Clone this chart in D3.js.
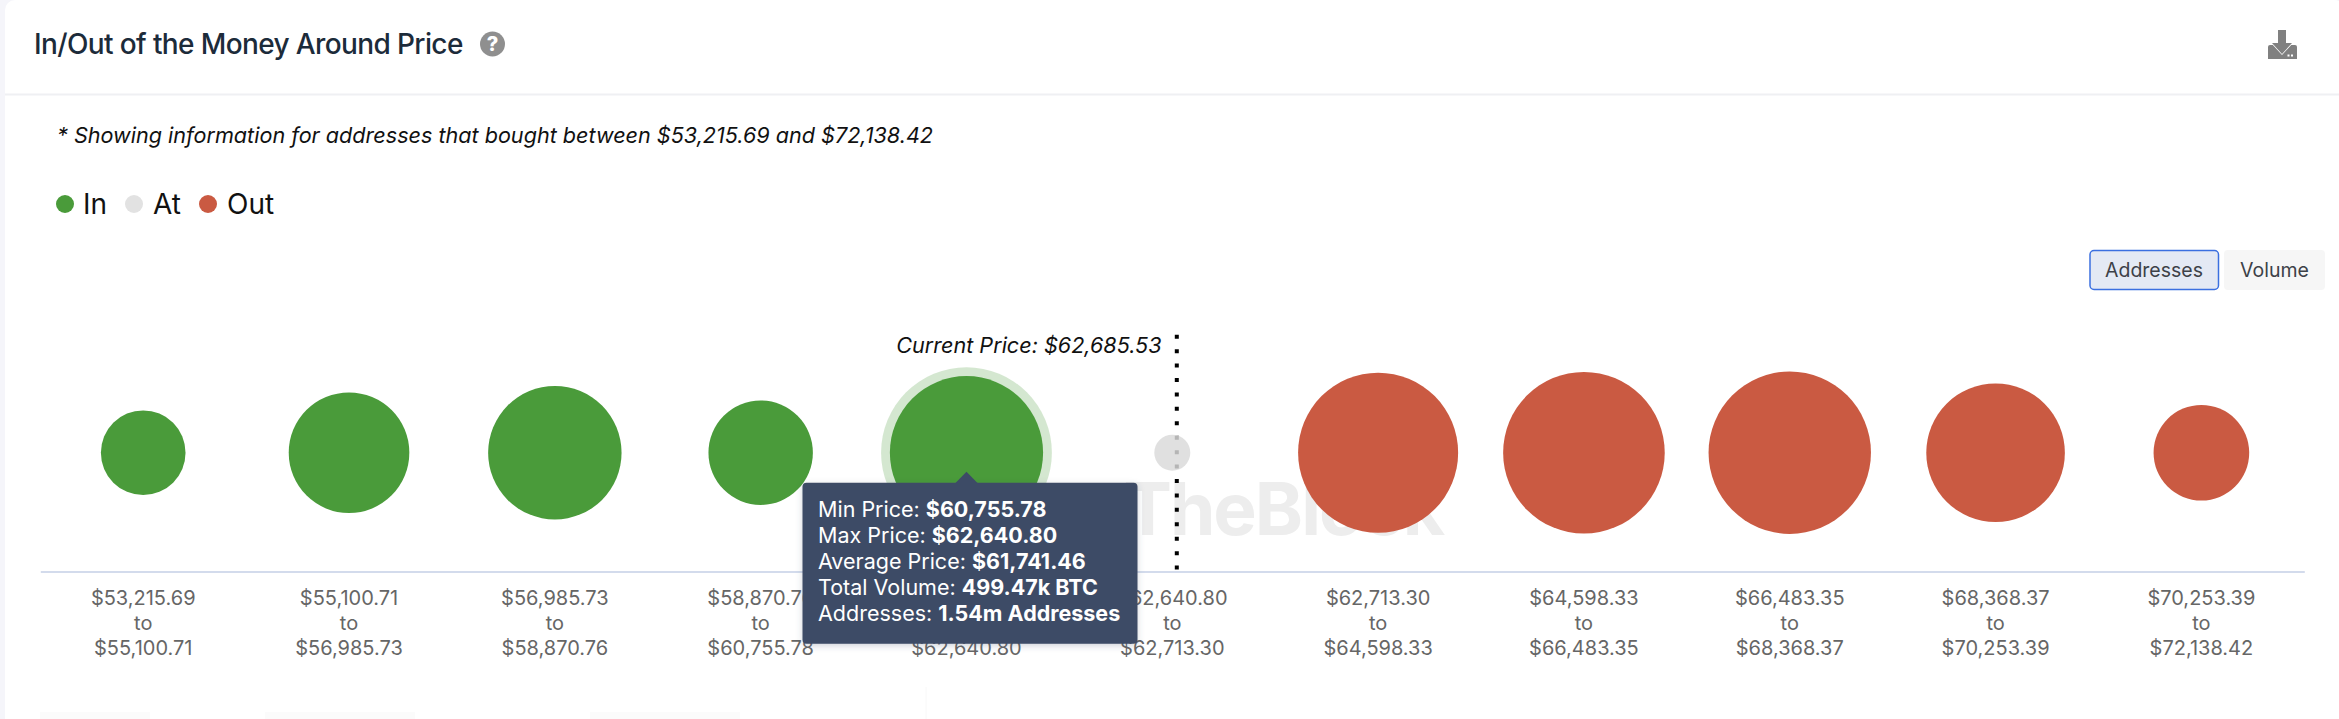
<!DOCTYPE html>
<html>
<head>
<meta charset="utf-8">
<script src="https://cdn.jsdelivr.net/npm/d3@7"></script>
<style>
  html, body { margin: 0; padding: 0; background: #fff; overflow: hidden; }
  svg { display: block; font-family: Inter, "Noto Sans", sans-serif; }
</style>
</head>
<body>
<div id="chart"></div>
<script>
// range of each bubble
const binFrom = ["$53,215.69", "$55,100.71", "$56,985.73", "$58,870.76", "$60,755.78", "$62,640.80", "$62,713.30", "$64,598.33", "$66,483.35", "$68,368.37", "$70,253.39"];
const binTo = ["$55,100.71", "$56,985.73", "$58,870.76", "$60,755.78", "$62,640.80", "$62,713.30", "$64,598.33", "$66,483.35", "$68,368.37", "$70,253.39", "$72,138.42"];
// addresses in millions
const addresses = [0.47, 0.954, 1.168, 0.715, 1.54, 0.085, 1.68, 1.713, 1.73, 1.26, 0.60];
const status = ["in", "in", "in", "in", "in", "at", "out", "out", "out", "out", "out"];
const legendNames = ["In", "At", "Out"];
const legendKeys = ["in", "at", "out"];
const tooltipLabels = ["Min Price: ", "Max Price: ", "Average Price: ", "Total Volume: ", "Addresses: "];
const tooltipValues = ["$60,755.78", "$62,640.80", "$61,741.46", "499.47k BTC", "1.54m Addresses"];
const selectedBin = 4;
const atBin = 5;

const width = 2339;
const height = 719;
const colors = { in: "#4a9b3a", at: "#dadada", out: "#ca5a42" };
const legendColors = { in: "#4a9b3a", at: "#e2e2e2", out: "#ca5a42" };

const svg = d3.select("#chart").append("svg").attr("width", width).attr("height", height);

// card
svg.append("rect").attr("width", width).attr("height", height).attr("fill", "#f5f5fa");
svg.append("rect").attr("x", 5).attr("y", 0).attr("width", width).attr("height", height + 20).attr("rx", 10).attr("fill", "#fff");
svg.append("line").attr("x1", 5).attr("x2", width).attr("y1", 94.5).attr("y2", 94.5).attr("stroke", "#eff0f3").attr("stroke-width", 2);

// header
svg.append("text").attr("x", 34).attr("y", 54).attr("font-size", 28).attr("font-weight", 500).attr("letter-spacing", "-0.62px").attr("fill", "#1c2b3a").text("In/Out of the Money Around Price");
svg.append("circle").attr("cx", 492.5).attr("cy", 44).attr("r", 12.5).attr("fill", "#8f8f8f");
svg.append("text").attr("x", 492.5).attr("y", 51).attr("text-anchor", "middle").attr("font-size", 20).attr("font-weight", 800).attr("fill", "#fff").text("?");

// download icon
const icon = svg.append("g").attr("fill", "#808080");
icon.append("path").attr("d", "M2268 47q0-2 2-2h25q2 0 2 2v12h-29z");
icon.append("path").attr("d", "M2278 30h8v13h6l-10 11-10-11h6z").attr("stroke", "#fff").attr("stroke-width", 1.5).attr("paint-order", "stroke");
icon.append("rect").attr("x", 2287.5).attr("y", 54.5).attr("width", 2).attr("height", 2).attr("fill", "#fff");
icon.append("rect").attr("x", 2291).attr("y", 54.5).attr("width", 2).attr("height", 2).attr("fill", "#fff");

svg.append("text").attr("x", 57).attr("y", 142.5).attr("font-size", 21.6).attr("font-style", "italic").attr("fill", "#111").text("* Showing information for addresses that bought between $53,215.69 and $72,138.42");

// legend
const legendCx = [65, 134, 208];
const legendTx = [83, 153, 227];
legendKeys.forEach((k, i) => {
  svg.append("circle").attr("cx", legendCx[i]).attr("cy", 204).attr("r", 9).attr("fill", legendColors[k]);
  svg.append("text").attr("x", legendTx[i]).attr("y", 214).attr("font-size", 28).attr("fill", "#111").text(legendNames[i]);
});

// toggle buttons
svg.append("rect").attr("x", 2090).attr("y", 250.5).attr("width", 128.5).attr("height", 39).attr("rx", 4).attr("fill", "#e4e9f4").attr("stroke", "#3b6fe0").attr("stroke-width", 1.5);
svg.append("text").attr("x", 2154).attr("y", 277).attr("text-anchor", "middle").attr("font-size", 19.5).attr("fill", "#3d4148").text("Addresses");
svg.append("rect").attr("x", 2224).attr("y", 250).attr("width", 101).attr("height", 40).attr("rx", 4).attr("fill", "#f6f6f6");
svg.append("text").attr("x", 2274.5).attr("y", 277).attr("text-anchor", "middle").attr("font-size", 19.5).attr("fill", "#3d4148").text("Volume");

// faint start of the next panel
const faint = svg.append("g").attr("fill", "#fbfbfb");
[[40, 110], [265, 150], [590, 150]].forEach(([x, w]) => faint.append("rect").attr("x", x).attr("y", 712).attr("width", w).attr("height", 7));
svg.append("line").attr("x1", 926).attr("x2", 926).attr("y1", 687).attr("y2", 719).attr("stroke", "#f8f8f8");

// watermark
svg.append("text").attr("x", 1443).attr("y", 535).attr("text-anchor", "end").attr("font-size", 73).attr("font-weight", 700).attr("letter-spacing", "-2px").attr("fill", "#ededed").text("IntoTheBlock");

// scales
const axisY = 571.5;
const bubbleY = 452.7;
const xScale = d3.scaleBand().domain(binFrom).range([40.3, 2304.3]);
const rScale = d3.scaleSqrt().domain([0, d3.max(addresses)]).range([0, 81.2]);
const center = (i) => xScale(binFrom[i]) + xScale.bandwidth() / 2;

// axis, three lines per tick
const axis = svg.append("g").attr("transform", `translate(0, ${axisY})`).call(d3.axisBottom(xScale).tickSize(0).tickPadding(0));
axis.select(".domain").attr("stroke", "#d3dbec").attr("stroke-width", 2);
axis.selectAll(".tick text").each(function (d, i) {
  const t = d3.select(this).text(null).attr("fill", "#666").attr("font-size", 20).attr("font-family", "Inter").attr("y", 0).attr("dy", null);
  [binFrom[i], "to", binTo[i]].forEach((s, j) => {
    t.append("tspan").attr("x", 0).attr("y", 33 + j * 25).text(s);
  });
});

// current price marker
const priceX = center(atBin) + 4.5;
svg.append("line").attr("x1", priceX).attr("x2", priceX).attr("y1", 334.7).attr("y2", axisY - 1).attr("stroke", "#000").attr("stroke-width", 4).attr("stroke-dasharray", "4 10.43");
svg.append("text").attr("x", 1161.5).attr("y", 353).attr("text-anchor", "end").attr("font-size", 21.6).attr("font-style", "italic").attr("fill", "#111").text("Current Price: $62,685.53");

// hover halo on the selected bubble
svg.append("circle").attr("cx", center(selectedBin)).attr("cy", bubbleY).attr("r", rScale(addresses[selectedBin]) + 8.8).attr("fill", colors.in).attr("opacity", 0.24);

svg.selectAll("circle.bubble").data(addresses).join("circle").attr("class", "bubble")
  .attr("cx", (d, i) => center(i))
  .attr("cy", bubbleY)
  .attr("r", (d) => rScale(d))
  .attr("fill", (d, i) => colors[status[i]])
  .attr("fill-opacity", (d, i) => status[i] === "at" ? 0.83 : 1);

// tooltip
const tipX = center(selectedBin);
const tip = svg.append("g");
const defs = svg.append("defs");
const shadow = defs.append("filter").attr("id", "tipShadow").attr("x", "-10%").attr("y", "-10%").attr("width", "120%").attr("height", "120%");
shadow.append("feDropShadow").attr("dx", 0).attr("dy", 2).attr("stdDeviation", 3).attr("flood-color", "#3d4b66").attr("flood-opacity", 0.25);
tip.append("rect").attr("x", 802.5).attr("y", 482.7).attr("width", 335).attr("height", 161).attr("rx", 4).attr("fill", "#3d4b66").attr("filter", "url(#tipShadow)");
tip.append("path").attr("d", d3.line()([[tipX - 11, 483], [tipX, 471.7], [tipX + 11, 483]])).attr("fill", "#3d4b66");
tooltipLabels.forEach((label, i) => {
  const t = tip.append("text").attr("x", 818).attr("y", 517 + i * 26).attr("font-size", 21.5).attr("fill", "#fff");
  t.append("tspan").text(label);
  t.append("tspan").attr("font-weight", 700).text(tooltipValues[i]);
});
</script>
</body>
</html>
